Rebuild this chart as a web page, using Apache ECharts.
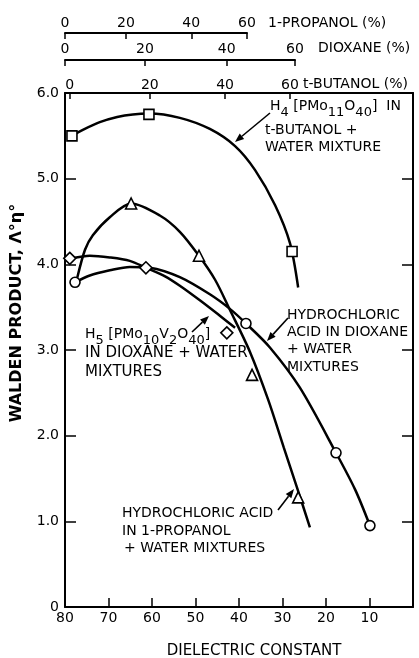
<!DOCTYPE html>
<html>
<head>
<meta charset="utf-8">
<script src="https://cdn.jsdelivr.net/npm/echarts@6/dist/echarts.min.js"></script>
<style>
html,body{margin:0;padding:0;background:#fff;}
#chart{width:419px;height:658px;}
</style>
</head>
<body>
<div id="chart"></div>
<script>
// ---------- DATA (dielectric constant vs Walden product) ----------
const dielectricMin = 0;
const dielectricMax = 80;
const waldenMin = 0;
const waldenMax = 6;

// Top composition scales: dielectric constant at each % tick
const propanolTickD = [80.0, 66.0, 51.0, 38.2];
const propanolTickLabels = ['0', '20', '40', '60'];
const dioxaneTickD = [80.0, 61.6, 42.8, 27.1];
const dioxaneTickLabels = ['0', '20', '40', '60'];
const butanolTickD = [78.9, 60.5, 43.2, 28.3];
const butanolTickLabels = ['0', '20', '40', '60'];

// H4[PMo11O40] in t-butanol + water (squares)
const butanolPtsX = [78.4, 60.7, 27.8];
const butanolPtsY = [5.50, 5.75, 4.15];
const butanolCurveX = [78.4, 75.9, 72.0, 68.0, 64.4, 60.7, 53.6, 46.7, 40.9, 36.3, 31.7, 28.3, 26.4];
const butanolCurveY = [5.50, 5.57, 5.66, 5.72, 5.75, 5.76, 5.71, 5.58, 5.38, 5.10, 4.69, 4.25, 3.73];

// HCl in 1-propanol + water (triangles)
const propanolPtsX = [64.8, 49.2, 37.0, 26.4];
const propanolPtsY = [4.71, 4.10, 2.71, 1.28];
const propanolCurveX = [77.2, 75.4, 73.6, 69.7, 64.8, 58.2, 53.6, 49.2, 45.5, 42.1, 37.5, 33.3, 29.7, 26.7, 23.7];
const propanolCurveY = [3.84, 4.17, 4.34, 4.55, 4.71, 4.57, 4.38, 4.10, 3.82, 3.47, 2.98, 2.42, 1.86, 1.40, 0.93];

// H5[PMo10V2O40] in dioxane + water (diamonds)
const h5PtsX = [78.9, 61.4, 42.8];
const h5PtsY = [4.07, 3.96, 3.20];
const h5CurveX = [78.4, 74.3, 69.7, 65.1, 61.4, 57.0, 53.6, 49.0, 44.4, 40.9];
const h5CurveY = [4.07, 4.10, 4.08, 4.04, 3.96, 3.86, 3.75, 3.58, 3.40, 3.26];

// HCl in dioxane + water (circles)
const hclDioxPtsX = [77.7, 38.4, 17.7, 9.9];
const hclDioxPtsY = [3.79, 3.31, 1.80, 0.95];
const hclDioxCurveX = [77.7, 74.3, 69.7, 65.1, 60.5, 53.6, 46.7, 42.1, 38.4, 32.9, 26.0, 17.7, 13.3, 9.9];
const hclDioxCurveY = [3.79, 3.87, 3.93, 3.97, 3.96, 3.85, 3.65, 3.48, 3.31, 3.03, 2.56, 1.80, 1.37, 0.95];

// ---------- CHART ----------
const FONT = 'DejaVu Sans';
const zip = (xs, ys) => xs.map((x, i) => [x, ys[i]]);
const labelFor = (ticks, labels) => v => {
  const i = ticks.findIndex(t => Math.abs(t - v) < 1e-6);
  return i >= 0 ? labels[i] : '';
};

const chart = echarts.init(document.getElementById('chart'), null, {renderer: 'canvas'});

const axisLineStyle = {color: '#000', width: 2};
const tickStyle = {color: '#000', width: 1.5};
const labelStyle = {color: '#000', fontFamily: FONT, fontSize: 14};

function arrow(x1, y1, x2, y2) {
  const a = Math.atan2(y2 - y1, x2 - x1), L = 9, W = 3.5;
  const bx = x2 - L * Math.cos(a), by = y2 - L * Math.sin(a);
  return [
    {type: 'line', shape: {x1: x1, y1: y1, x2: bx, y2: by}, style: {stroke: '#000', lineWidth: 1.6}},
    {type: 'polygon', shape: {points: [[x2, y2], [bx + W * Math.sin(a), by - W * Math.cos(a)], [bx - W * Math.sin(a), by + W * Math.cos(a)]]}, style: {fill: '#000'}}
  ];
}

function txt(x, y, text, extra) {
  return {
    type: 'text', x: x, y: y,
    style: Object.assign({text: text, fill: '#000', font: '14px "' + FONT + '"', verticalAlign: 'middle', align: 'left'}, extra || {})
  };
}

const rich = {
  n: {fontSize: 14, fontFamily: FONT, color: '#000', verticalAlign: 'top', lineHeight: 16},
  s: {fontSize: 13, fontFamily: FONT, color: '#000', verticalAlign: 'top', padding: [7, 0, 0, 0], lineHeight: 16}
};

const graphics = [
  // top axis names
  txt(268, 23, '1-PROPANOL (%)'),
  txt(318, 48, 'DIOXANE (%)'),
  txt(303, 84, 't-BUTANOL (%)'),
  // axis titles
  {type: 'text', x: 17, y: 313, rotation: Math.PI / 2,
   style: {text: 'WALDEN PRODUCT, Λ°η°', fill: '#000', font: 'bold 16px "' + FONT + '"', align: 'center', verticalAlign: 'middle'}},
  txt(254, 651, 'DIELECTRIC CONSTANT', {align: 'center', font: '15px "' + FONT + '"'}),
  // H4 annotation
  {type: 'text', x: 270, y: 99, style: {text: '{n|H}{s|4}{n| [PMo}{s|11}{n|O}{s|40}{n|]  IN}', rich: rich}},
  txt(265, 130, 't-BUTANOL +'),
  txt(265, 147, 'WATER MIXTURE'),
  // H5 annotation
  {type: 'text', x: 85, y: 327, style: {text: '{n|H}{s|5}{n| [PMo}{s|10}{n|V}{s|2}{n|O}{s|40}{n|]}', rich: rich}},
  txt(85, 353, 'IN DIOXANE + WATER', {font: '15px "' + FONT + '"'}),
  txt(85, 372, 'MIXTURES', {font: '15px "' + FONT + '"'}),
  // HCl dioxane annotation
  txt(287, 315, 'HYDROCHLORIC'),
  txt(287, 332, 'ACID IN DIOXANE'),
  txt(287, 349, '+ WATER'),
  txt(287, 367, 'MIXTURES'),
  // HCl propanol annotation
  txt(122, 513, 'HYDROCHLORIC ACID'),
  txt(122, 531, 'IN 1-PROPANOL'),
  txt(124, 548, '+ WATER MIXTURES')
].concat(
  arrow(270, 113, 235, 142),
  arrow(192, 332, 209, 316),
  arrow(288, 318, 267, 341),
  arrow(278, 510, 294, 489)
);

const lineSeries = (xs, ys) => ({
  type: 'line', data: zip(xs, ys), xAxisIndex: 0, yAxisIndex: 0,
  showSymbol: false, smooth: 0.3, z: 2,
  lineStyle: {color: '#000', width: 2.5}
});
const ptSeries = (xs, ys, symbol, size) => ({
  type: 'scatter', data: zip(xs, ys), xAxisIndex: 0, yAxisIndex: 0,
  symbol: symbol, symbolSize: size, z: 5,
  itemStyle: {color: '#fff', borderColor: '#000', borderWidth: 1.6, opacity: 1}
});

const option = {
  animation: false,
  backgroundColor: '#fff',
  grid: [
    {left: 65, right: 6, top: 93, bottom: 51},
    {left: 65, right: 419 - 247, top: 33, height: 20},
    {left: 65, right: 419 - 295, top: 60, height: 20}
  ],
  xAxis: [
    { // bottom dielectric constant
      gridIndex: 0, type: 'value', position: 'bottom', min: dielectricMin, max: dielectricMax, interval: 10, inverse: true,
      axisLine: {onZero: false, lineStyle: axisLineStyle}, axisTick: {inside: true, length: 9, lineStyle: tickStyle},
      axisLabel: Object.assign({margin: 4, formatter: v => (v === 0 ? '' : String(v))}, labelStyle),
      splitLine: {show: false}
    },
    { // t-butanol (top of plot)
      gridIndex: 0, type: 'value', position: 'top', min: dielectricMin, max: dielectricMax, inverse: true,
      axisLine: {onZero: false, lineStyle: axisLineStyle},
      axisTick: {inside: true, length: 6, lineStyle: tickStyle, customValues: butanolTickD},
      axisLabel: Object.assign({margin: 1, customValues: butanolTickD, formatter: labelFor(butanolTickD, butanolTickLabels)}, labelStyle),
      splitLine: {show: false}
    },
    { // 1-propanol
      gridIndex: 1, type: 'value', position: 'top', min: propanolTickD[3], max: dielectricMax, inverse: true,
      axisLine: {onZero: false, lineStyle: axisLineStyle},
      axisTick: {inside: true, length: 6, lineStyle: tickStyle, customValues: propanolTickD},
      axisLabel: Object.assign({margin: 3, customValues: propanolTickD, formatter: labelFor(propanolTickD, propanolTickLabels)}, labelStyle),
      splitLine: {show: false}
    },
    { // dioxane
      gridIndex: 2, type: 'value', position: 'top', min: dioxaneTickD[3], max: dielectricMax, inverse: true,
      axisLine: {onZero: false, lineStyle: axisLineStyle},
      axisTick: {inside: true, length: 6, lineStyle: tickStyle, customValues: dioxaneTickD},
      axisLabel: Object.assign({margin: 4, customValues: dioxaneTickD, formatter: labelFor(dioxaneTickD, dioxaneTickLabels)}, labelStyle),
      splitLine: {show: false}
    }
  ],
  yAxis: [
    {
      gridIndex: 0, type: 'value', position: 'left', min: waldenMin, max: waldenMax, interval: 1,
      axisLine: {show: true, onZero: false, lineStyle: axisLineStyle}, axisTick: {show: true, inside: true, length: 11, lineStyle: tickStyle},
      axisLabel: Object.assign({margin: 6, formatter: v => (v === 0 ? '0' : v.toFixed(1))}, labelStyle),
      splitLine: {show: false}
    },
    {
      gridIndex: 0, type: 'value', position: 'right', min: waldenMin, max: waldenMax, interval: 1,
      axisLine: {show: true, onZero: false, lineStyle: axisLineStyle}, axisTick: {show: true, inside: true, length: 11, lineStyle: tickStyle},
      axisLabel: {show: false}, splitLine: {show: false}
    },
    {gridIndex: 1, type: 'value', show: false, min: 0, max: 1, axisLine: {onZero: false}},
    {gridIndex: 2, type: 'value', show: false, min: 0, max: 1, axisLine: {onZero: false}}
  ],
  series: [
    lineSeries(butanolCurveX, butanolCurveY),
    lineSeries(propanolCurveX, propanolCurveY),
    lineSeries(h5CurveX, h5CurveY),
    lineSeries(hclDioxCurveX, hclDioxCurveY),
    ptSeries(butanolPtsX, butanolPtsY, 'rect', 10),
    ptSeries(propanolPtsX, propanolPtsY, 'triangle', 11),
    ptSeries(h5PtsX, h5PtsY, 'diamond', 12),
    ptSeries(hclDioxPtsX, hclDioxPtsY, 'circle', 10)
  ],
  graphic: graphics
};

chart.setOption(option);
</script>
</body>
</html>
